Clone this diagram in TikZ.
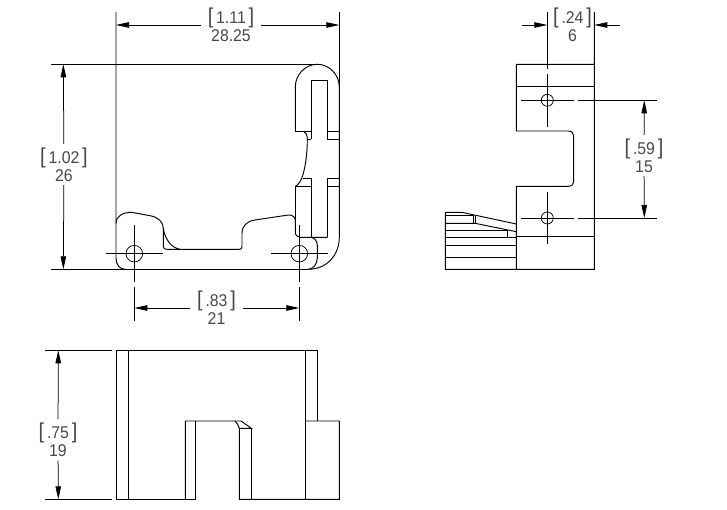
\documentclass[tikz,border=0pt]{standalone}
\usepackage{fontspec}
\setmainfont[FakeStretch=0.93]{Liberation Sans}
\usetikzlibrary{arrows.meta}
\tikzset{
  part/.style={line width=0.95pt,black},
  centerline/.style={line width=0.75pt,black},
  dimarrow/.style={line width=0.75pt,-{Stealth[inset=0pt,length=13pt,width=5.5pt]}},
  dimlabel/.style={align=center,inner xsep=7pt,inner ysep=0pt,minimum height=41pt,text=black!72,
    font=\fontsize{17}{18}\selectfont}
}
\def\dimnode{\node[dimlabel]}
\def\lb{{\fontsize{21.5}{18}\selectfont[}}
\def\rb{{\fontsize{21.5}{18}\selectfont]}}

\begin{document}
\begin{tikzpicture}[x=1pt,y=-1pt]
\useasboundingbox (0,0) rectangle (727,510);
\dimnode (widthlabel) at (231,25) {\lb\,1.11\,\rb\\28.25};
\dimnode (heightlabel) at (64,164.5) {\lb\,1.02\,\rb\\26};
\dimnode (pitchlabel) at (216.5,308) {\lb\,.83\,\rb\\21};
\dimnode (offsetlabel) at (572.5,25) {\lb\,.24\,\rb\\6};
\dimnode (spacinglabel) at (644,155.5) {\lb\,.59\,\rb\\15};
\dimnode (depthlabel) at (58,440) {\lb\,.75\,\rb\\19};
\coordinate (widthl) at (116,25);
\coordinate (widthr) at (339.3,25);
\coordinate (heightt) at (63.3,64.3);
\coordinate (heightb) at (63.3,269.3);
\coordinate (pitchl) at (134.3,308);
\coordinate (pitchr) at (299.3,308);
\coordinate (offsetl) at (547.3,25);
\coordinate (offsetr) at (594.3,25);
\coordinate (offsetlfree) at (522,25);
\coordinate (offsetrfree) at (620,25);
\coordinate (spacingt) at (644.3,100.3);
\coordinate (spacingb) at (644.3,218);
\coordinate (deptht) at (58.3,350.3);
\coordinate (depthb) at (58.3,499.3);
\draw[dimarrow] (widthlabel) -- (widthl);
\draw[dimarrow] (widthlabel) -- (widthr);
\draw[dimarrow] (heightlabel) -- (heightt);
\draw[dimarrow] (heightlabel) -- (heightb);
\draw[dimarrow] (pitchlabel) -- (pitchl);
\draw[dimarrow] (pitchlabel) -- (pitchr);
\draw[dimarrow] (offsetlfree) -- (offsetl);
\draw[dimarrow] (offsetrfree) -- (offsetr);
\draw[dimarrow] (spacinglabel) -- (spacingt);
\draw[dimarrow] (spacinglabel) -- (spacingb);
\draw[dimarrow] (depthlabel) -- (deptht);
\draw[dimarrow] (depthlabel) -- (depthb);
% front view
\draw[part] (51,64.3) -- (317.3,64.3);
\draw[part] (51,269.3) -- (308.3,269.3);
\draw[part] (339.3,12) -- (339.3,87);
\draw[part] (116,12) -- (116,258) .. controls (116,265) and (120,269.3) .. (125,269.3);
\draw[part] (295.3,131) -- (295.3,87) .. controls (295.3,75) and (305,64.3) .. (317.3,64.3)
  .. controls (329.6,64.3) and (339.3,75) .. (339.3,87) -- (339.3,237)
  .. controls (339.3,256) and (326,269.3) .. (308.3,269.3);
\draw[part] (116,223.3) .. controls (116,216) and (123,212.3) .. (131.7,212.3) -- (150,215.7)
  .. controls (158,217) and (163.3,222) .. (163.3,228.3) -- (163.3,246.7)
  .. controls (163.3,248.5) and (165,249.3) .. (166.7,249.3) -- (239.3,249.3)
  .. controls (241,249.3) and (242,248.5) .. (242,246.7) -- (242,233.3)
  .. controls (242,226) and (247,221) .. (255,220) -- (288.3,215)
  .. controls (292,214.7) and (295.3,217) .. (295.3,220) -- (295.3,231.7)
  .. controls (295.3,235) and (297,237.3) .. (300,237.3) -- (327.7,237.3);
\draw[part] (163.3,228.3) .. controls (165,240) and (172,248) .. (180,249.3);
\draw[part] (310,237.3) .. controls (314,237.3) and (317.3,240.5) .. (317.3,245) -- (317.3,258.3)
  .. controls (317.3,264) and (313,269.3) .. (308.3,269.3);
\draw[part] (311.3,139.3) -- (311.3,80.3) -- (327.7,80.3) -- (327.7,139.3) -- (339.3,139.3);
\draw[part] (295.3,131) -- (311.3,131);
\draw[part] (327.7,131) -- (339.3,131);
\draw[part] (306.7,139.3) -- (311.3,139.3);
\draw[part] (303,178.3) -- (311.3,178.3) -- (311.3,237.3);
\draw[part] (327.7,237.3) -- (327.7,178.3) -- (339.3,178.3);
\draw[part] (295.3,231.7) -- (295.3,186.3) -- (311.3,186.3);
\draw[part] (327.7,186.3) -- (339.3,186.3);
\draw[part] (303.3,131) .. controls (306,132) and (307.3,135) .. (307.3,139.3)
  .. controls (307.3,155) and (305,170) .. (301.7,178.3) .. controls (300,182) and (298,185) .. (295.3,186.3);
\foreach \hx in {134.3,299.3} {
  \draw[centerline] (\hx,253.7) circle[radius=8.3pt];
  \draw[centerline] (\hx-28.3,253.7) -- (\hx+28.3,253.7);
  \draw[centerline] (\hx,225) -- (\hx,282);
  \draw[centerline] (\hx,287) -- (\hx,320.7);
}
% side view
\draw[part] (594.3,12) -- (594.3,269.3) -- (516.3,269.3) -- (516.3,186.3) -- (568.3,186.3)
  .. controls (571.5,186.3) and (573.7,184.5) .. (573.7,181.7) -- (573.7,136)
  .. controls (573.7,133) and (571.5,131) .. (568.3,131) -- (516.3,131) -- (516.3,64.3) -- (594.3,64.3);
\draw[part] (516.3,86) -- (594.3,86);
\draw[part] (516.3,236.3) -- (594.3,236.3);
\draw[centerline] (547.3,12) -- (547.3,69);
\draw[centerline] (547.3,74) -- (547.3,126.7);
\draw[centerline] (547.3,192) -- (547.3,244.3);
\foreach \hy in {100.3,218} {
  \draw[centerline] (547.3,\hy) circle[radius=6pt];
  \draw[centerline] (521,\hy) -- (574,\hy);
  \draw[centerline] (578,\hy) -- (656.7,\hy);
}
\draw[part] (516.3,269.3) -- (445.3,269.3) -- (445.3,212.3) -- (461.7,212.3) -- (516.3,224);
\draw[part] (445.3,215.7) -- (473.3,215.7) -- (473.3,223.3);
\draw[part] (475,215.7) -- (475,223.3);
\draw[part] (445.3,223.3) -- (475,223.3) -- (516.3,231.7);
\draw[part] (445.3,230.3) -- (507.3,230.3) -- (507.3,237.3);
\draw[part] (445.3,237.3) -- (516.3,237.3);
\draw[part] (445.3,245.3) -- (516.3,245.3);
\draw[part] (445.3,257.3) -- (516.3,257.3);
% bottom view
\draw[part] (45,350.3) -- (111.7,350.3);
\draw[part] (45,499.3) -- (111.7,499.3);
\draw[part] (116,499.3) -- (116,350.3) -- (317.3,350.3) -- (317.3,421);
\draw[part] (128.3,350.3) -- (128.3,499.3);
\draw[part] (116,499.3) -- (195.7,499.3) -- (195.7,421);
\draw[part] (185.3,499.3) -- (185.3,421) -- (241,421) -- (251.3,428.3) -- (239.3,428.3) -- (239.3,499.3) -- (339.3,499.3) -- (339.3,421) -- (305.3,421);
\draw[part] (235,421) .. controls (237,423) and (238.5,425.5) .. (239.3,428.3);
\draw[part] (251.3,428.3) -- (251.3,499.3);
\draw[part] (305.3,350.3) -- (305.3,499.3);
\end{tikzpicture}
\end{document}
